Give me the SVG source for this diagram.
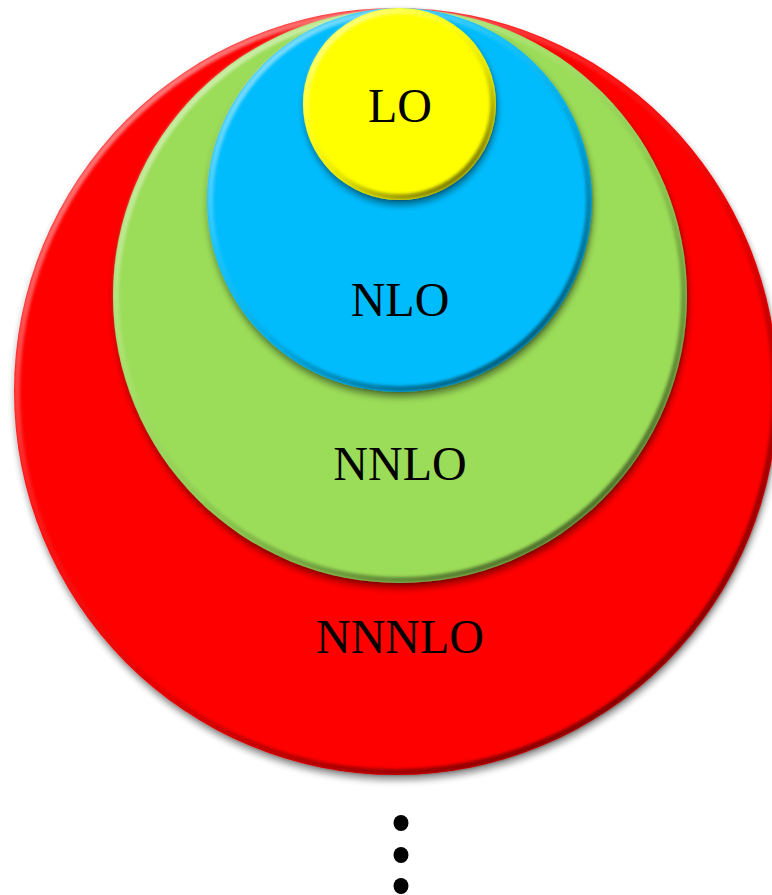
<svg xmlns="http://www.w3.org/2000/svg" width="772" height="895" viewBox="0 0 772 895">
  <style>
    .lbl { font-family: "Liberation Serif", "Times New Roman", serif; font-size: 48px; fill: #000; text-anchor: middle; }
    .rim { fill: none; stroke: url(#bevel); stroke-width: 6; filter: url(#soft); }
    .body { filter: url(#shadow); }
  </style>
  <defs>
    <filter id="shadow" x="-10%" y="-10%" width="120%" height="125%">
      <feGaussianBlur in="SourceAlpha" stdDeviation="3.5"/>
      <feOffset dx="1" dy="5" result="b"/>
      <feComponentTransfer in="b" result="s"><feFuncA type="linear" slope="0.45"/></feComponentTransfer>
      <feMerge><feMergeNode in="s"/><feMergeNode in="SourceGraphic"/></feMerge>
    </filter>
    <filter id="soft" x="-5%" y="-5%" width="110%" height="110%">
      <feGaussianBlur stdDeviation="1.4"/>
    </filter>
    <linearGradient id="bevel" x1="0.15" y1="0.05" x2="0.85" y2="0.95">
      <stop offset="0" stop-color="#fff" stop-opacity="0.55"/>
      <stop offset="0.35" stop-color="#fff" stop-opacity="0.1"/>
      <stop offset="0.6" stop-color="#000" stop-opacity="0.1"/>
      <stop offset="1" stop-color="#000" stop-opacity="0.55"/>
    </linearGradient>
  </defs>
  <rect width="772" height="895" fill="#fff"/>
  <g id="nnnlo">
    <ellipse class="body" cx="396" cy="391.5" rx="382" ry="383.5" fill="#FE0000"/>
    <ellipse class="rim" cx="396" cy="391.5" rx="379" ry="380.5"/>
    <text class="lbl" x="400" y="653">NNNLO</text>
  </g>
  <g id="nnlo">
    <ellipse class="body" cx="400" cy="296" rx="287" ry="287" fill="#9BDC58"/>
    <ellipse class="rim" cx="400" cy="296" rx="284" ry="284"/>
    <text class="lbl" x="400" y="480">NNLO</text>
  </g>
  <g id="nlo">
    <ellipse class="body" cx="399.5" cy="200" rx="192.5" ry="192" fill="#04BCFC"/>
    <ellipse class="rim" cx="399.5" cy="200" rx="189.5" ry="189"/>
    <text class="lbl" x="400" y="316">NLO</text>
  </g>
  <g id="lo">
    <ellipse class="body" cx="399.5" cy="104" rx="96.5" ry="96" fill="#FFFF00"/>
    <ellipse class="rim" cx="399.5" cy="104" rx="93.5" ry="93"/>
    <text class="lbl" x="400" y="122">LO</text>
  </g>
  <g id="connectors"/>
  <g id="ellipsis" fill="#000">
    <ellipse cx="401" cy="823" rx="7.5" ry="8"/>
    <ellipse cx="401" cy="855" rx="7.5" ry="8"/>
    <ellipse cx="401" cy="886" rx="7.5" ry="8"/>
  </g>
</svg>
